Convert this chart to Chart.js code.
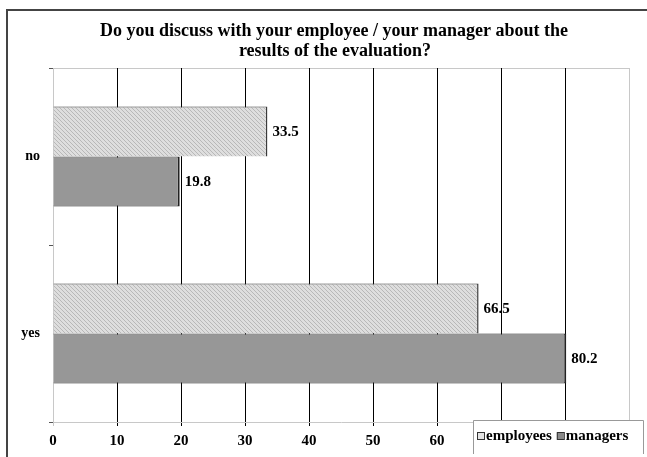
<!DOCTYPE html>
<html>
<head>
<meta charset="utf-8">
<script src="https://cdn.jsdelivr.net/npm/chart.js@4"></script>
<style>
  html, body { margin: 0; padding: 0; background: #fff; }
  #wrap { width: 647px; height: 457px; }
</style>
</head>
<body>
<div id="wrap"><canvas id="evalChart" width="647" height="457"></canvas></div>
<script>
// ===== Data =====
const categories = ["no", "yes"];
const seriesNames = ["employees", "managers"];
const employees = [33.5, 66.5];
const managers = [19.8, 80.2];
const axisMax = 90;
const axisStep = 10;
const titleLines = [
  "Do you discuss with your employee / your manager about the",
  "results of the evaluation?",
];

const serif = "'Liberation Serif', 'Times New Roman', serif";

// hatch fill for employees
function makeHatch() {
  const c = document.createElement("canvas");
  c.width = 4;
  c.height = 4;
  const g = c.getContext("2d");
  g.fillStyle = "#dedede";
  g.fillRect(0, 0, 4, 4);
  g.strokeStyle = "#b8b8b8";
  g.lineWidth = 1;
  g.beginPath();
  g.moveTo(0, 0);
  g.lineTo(4, 4);
  g.moveTo(-1, 3);
  g.lineTo(1, 5);
  g.moveTo(3, -1);
  g.lineTo(5, 1);
  g.stroke();
  return g.createPattern(c, "repeat");
}
const employeeFill = makeHatch();

// ===== Plugins =====
const framePlugin = {
  id: "frame",
  beforeDraw(chart) {
    const ctx = chart.ctx;
    ctx.save();
    ctx.fillStyle = "#fff";
    ctx.fillRect(0, 0, chart.width, chart.height);
    ctx.strokeStyle = "#444";
    ctx.lineWidth = 2;
    ctx.strokeRect(7, 10, 680, 480);
    // title
    ctx.fillStyle = "#000";
    ctx.font = "bold 18px " + serif;
    ctx.textAlign = "center";
    ctx.textBaseline = "middle";
    ctx.fillText(titleLines[0], 334, 31);
    ctx.fillText(titleLines[1], 335, 51);
    // plot top border
    const a = chart.chartArea;
    ctx.strokeStyle = "#c8c8c8";
    ctx.lineWidth = 1;
    ctx.beginPath();
    ctx.moveTo(a.left, a.top + 0.5);
    ctx.lineTo(a.right, a.top + 0.5);
    ctx.stroke();
    ctx.restore();
  },
};

const valueLabels = {
  id: "valueLabels",
  afterDatasetsDraw(chart) {
    const ctx = chart.ctx;
    ctx.save();
    ctx.fillStyle = "#000";
    ctx.font = "bold 15px " + serif;
    ctx.textAlign = "left";
    ctx.textBaseline = "middle";
    chart.data.datasets.forEach((ds, i) => {
      chart.getDatasetMeta(i).data.forEach((bar, j) => {
        ctx.fillText(ds.data[j].toFixed(1), bar.x + 5, bar.y + 1);
      });
    });
    ctx.restore();
  },
};

const boxLegend = {
  id: "boxLegend",
  afterDraw(chart) {
    const ctx = chart.ctx;
    const x = 473, y = 420, w = 170, h = 34;
    ctx.save();
    ctx.fillStyle = "#fff";
    ctx.fillRect(x, y, w, h);
    ctx.strokeStyle = "#999";
    ctx.lineWidth = 1;
    ctx.beginPath();
    ctx.moveTo(x + 0.5, y + h);
    ctx.lineTo(x + 0.5, y + 0.5);
    ctx.lineTo(x + w + 0.5, y + 0.5);
    ctx.lineTo(x + w + 0.5, y + h);
    ctx.stroke();
    ctx.font = "bold 15px " + serif;
    ctx.textBaseline = "middle";
    ctx.textAlign = "left";
    let cx = x + 4;
    const cy = y + 16;
    chart.data.datasets.forEach((ds) => {
      ctx.fillStyle = ds.legendFill;
      ctx.fillRect(cx, cy - 3.5, 7, 7);
      ctx.strokeStyle = "#333";
      ctx.strokeRect(cx + 0.5, cy - 3.5, 7, 7);
      ctx.fillStyle = "#000";
      ctx.fillText(ds.label, cx + 9, cy);
      cx += 9 + ctx.measureText(ds.label).width + 5;
    });
    ctx.restore();
  },
};

// ===== Chart =====
new Chart(document.getElementById("evalChart"), {
  type: "bar",
  data: {
    labels: categories,
    datasets: [
      {
        label: seriesNames[0],
        data: employees,
        backgroundColor: employeeFill,
        legendFill: "#e4e4e4",
        borderColor: "#3a3a3a",
        borderWidth: { top: 1, right: 1.5, bottom: 0, left: 0 },
        borderSkipped: false,
      },
      {
        label: seriesNames[1],
        data: managers,
        backgroundColor: "#979797",
        legendFill: "#8a8a8a",
        borderColor: "#222",
        borderWidth: { top: 1, right: 2, bottom: 1, left: 0 },
        borderSkipped: false,
      },
    ],
  },
  options: {
    indexAxis: "y",
    responsive: false,
    animation: false,
    categoryPercentage: 0.565,
    barPercentage: 1,
    layout: { padding: { top: 68, right: 18, left: 0, bottom: 0 } },
    plugins: {
      legend: { display: false },
      title: { display: false },
      tooltip: { enabled: false },
    },
    scales: {
      x: {
        min: 0,
        max: axisMax,
        ticks: {
          stepSize: axisStep,
          padding: 6,
          color: "#000",
          font: { family: serif, size: 15, weight: "bold" },
          callback: (v) => (v < 70 ? v : ""),
        },
        grid: {
          color: (c) => (c.tick && (c.tick.value === 0 || c.tick.value === axisMax) ? "#c8c8c8" : "#000"),
          lineWidth: 1,
          tickLength: 4,
        },
        border: { color: "#c8c8c8" },
        afterFit: (s) => { s.height = 35; },
      },
      y: {
        ticks: {
          padding: 9,
          color: "#000",
          font: { family: serif, size: 14, weight: "bold" },
        },
        grid: {
          drawOnChartArea: false,
          tickLength: 4,
          color: "#555",
        },
        border: { color: "#c8c8c8" },
        afterFit: (s) => { s.width = 53; },
      },
    },
  },
  plugins: [framePlugin, valueLabels, boxLegend],
});
</script>
</body>
</html>
